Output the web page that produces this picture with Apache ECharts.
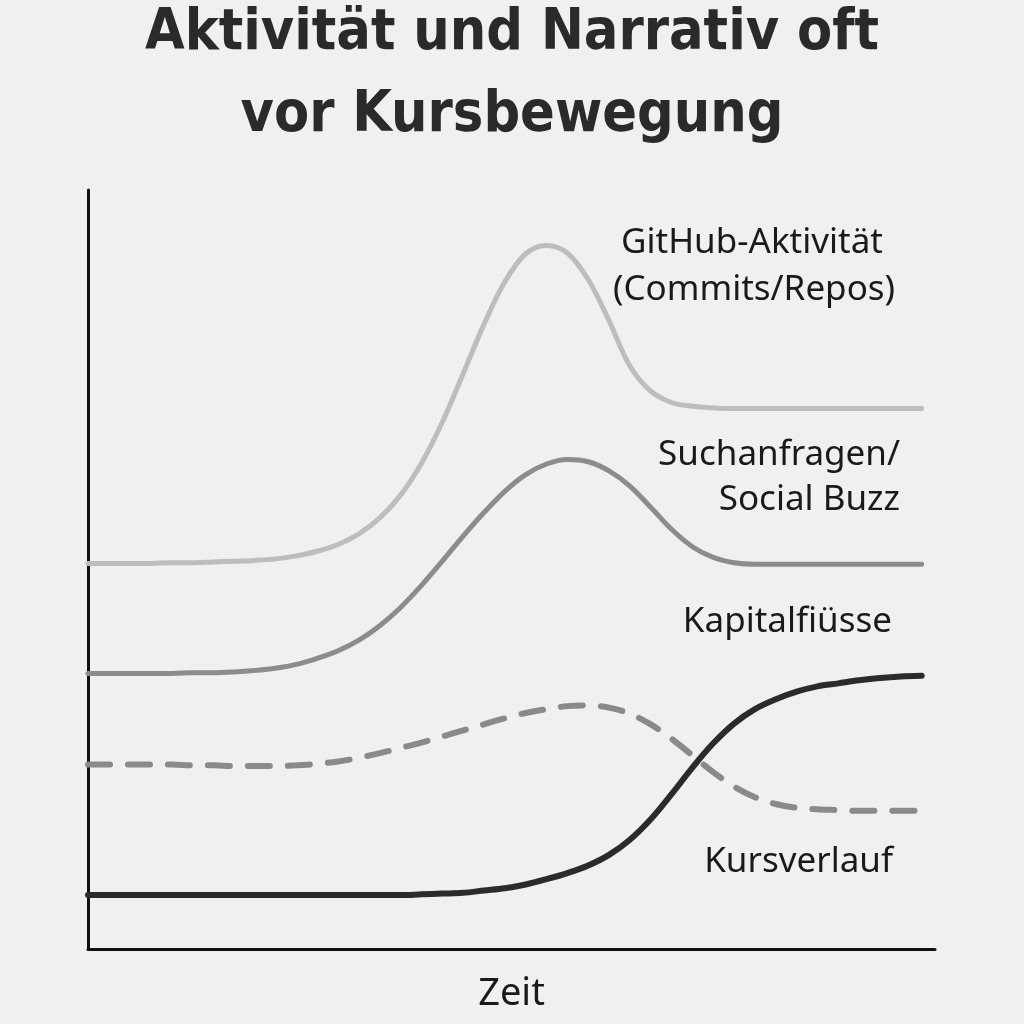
<!DOCTYPE html>
<html>
<head>
<meta charset="utf-8">
<script src="https://cdn.jsdelivr.net/npm/echarts@6/dist/echarts.min.js"></script>
<style>
  html, body { margin: 0; padding: 0; background: #f0f0f0; }
  #chart { width: 1024px; height: 1024px; }
</style>
</head>
<body>
<div id="chart"></div>
<script>
// Zeitachse (schematisch, 0..100)
const zeit = [0, 2.5, 5, 7.5, 10, 12.5, 15, 17.5, 20, 22.5, 25, 27.5, 30, 32.5, 35, 37.5, 40, 42.5, 45, 47.5,
              50, 52.5, 55, 57.5, 60, 62.5, 65, 67.5, 70, 72.5, 75, 77.5, 80, 82.5, 85, 87.5, 90, 92.5, 95, 97.5, 100];

// GitHub-Aktivität (Commits/Repos)
const github = [50.8, 50.8, 50.8, 50.8, 50.9, 50.9, 51.0, 51.1, 51.2, 51.4, 51.8, 52.4, 53.3, 54.7, 56.8, 59.8,
                64.0, 69.4, 75.8, 82.3, 87.9, 91.6, 92.7, 91.7, 88.2, 82.8, 76.8, 73.5, 72.0, 71.5, 71.3,
                71.2, 71.2, 71.2, 71.2, 71.2, 71.2, 71.2, 71.2, 71.2, 71.2];

// Suchanfragen / Social Buzz
const suche = [36.3, 36.3, 36.3, 36.3, 36.3, 36.4, 36.4, 36.5, 36.7, 37.0, 37.5, 38.3, 39.3, 40.7, 42.6, 45.0,
               47.9, 51.1, 54.4, 57.5, 60.3, 62.5, 63.9, 64.5, 64.2, 63.0, 61.0, 58.2, 55.3, 53.0, 51.6,
               50.9, 50.7, 50.7, 50.7, 50.7, 50.7, 50.7, 50.7, 50.7, 50.7];

// Kapitalflüsse (gestrichelt)
const kapital = [24.3, 24.3, 24.3, 24.3, 24.3, 24.2, 24.2, 24.1, 24.1, 24.1, 24.2, 24.4, 24.7, 25.2, 25.8, 26.5,
                 27.2, 28.0, 28.8, 29.6, 30.4, 31.1, 31.6, 32.0, 32.1, 31.8, 31.0, 29.6, 27.7, 25.5, 23.3,
                 21.4, 20.0, 19.1, 18.6, 18.4, 18.3, 18.2, 18.2, 18.2, 18.2];

// Kursverlauf
const kurs = [7.1, 7.1, 7.1, 7.1, 7.1, 7.1, 7.1, 7.1, 7.1, 7.1, 7.1, 7.1, 7.1, 7.1, 7.1, 7.1,
              7.2, 7.3, 7.4, 7.7, 8.0, 8.5, 9.2, 10.0, 11.0, 12.4, 14.4, 17.1, 20.4, 23.9, 27.1,
              29.7, 31.6, 32.9, 33.9, 34.6, 35.0, 35.4, 35.7, 35.9, 36.0];

const pairs = (ys) => zeit.map((x, i) => [x, ys[i]]);

const labelFont = '35px "Noto Sans", sans-serif';

const chart = echarts.init(document.getElementById('chart'));
chart.setOption({
  backgroundColor: '#f0f0f0',
  animation: false,
  title: {
    text: 'Aktivität und Narrativ oft\nvor Kursbewegung',
    left: 'center',
    top: -12,
    textStyle: {
      fontFamily: '"DejaVu Sans Condensed", sans-serif',
      fontSize: 57,
      fontWeight: 'bold',
      color: '#2a2a2a',
      lineHeight: 82
    }
  },
  grid: { left: 88, right: 89, top: 190, bottom: 75, containLabel: false, outerBoundsMode: 'none' },
  xAxis: {
    type: 'value',
    min: 0,
    max: 101.6,
    name: 'Zeit',
    nameLocation: 'middle',
    nameGap: 26,
    nameTextStyle: { fontFamily: '"Noto Sans", sans-serif', fontSize: 38, color: '#1a1a1a' },
    axisLine: { lineStyle: { color: '#111', width: 3 } },
    axisTick: { show: false },
    axisLabel: { show: false },
    splitLine: { show: false }
  },
  yAxis: {
    type: 'value',
    min: 0,
    max: 100,
    axisLine: { show: true, lineStyle: { color: '#111', width: 3 } },
    axisTick: { show: false },
    axisLabel: { show: false },
    splitLine: { show: false }
  },
  series: [
    {
      name: 'GitHub-Aktivität', type: 'line', smooth: 0.35, symbol: 'none',
      data: pairs(github),
      lineStyle: { color: '#bdbdbd', width: 5, cap: 'round' }
    },
    {
      name: 'Suchanfragen/Social Buzz', type: 'line', smooth: 0.35, symbol: 'none',
      data: pairs(suche),
      lineStyle: { color: '#8c8c8c', width: 5, cap: 'round' }
    },
    {
      name: 'Kapitalflüsse', type: 'line', smooth: 0.35, symbol: 'none',
      data: pairs(kapital),
      lineStyle: { color: '#8a8a8a', width: 6, type: [22, 18], cap: 'round' }
    },
    {
      name: 'Kursverlauf', type: 'line', smooth: 0.35, symbol: 'none',
      data: pairs(kurs),
      lineStyle: { color: '#2b2b2b', width: 6, cap: 'round' }
    }
  ],
  graphic: [
    { type: 'text', style: { text: 'GitHub-Aktivität', x: 752, y: 243, textAlign: 'center', textVerticalAlign: 'middle', font: labelFont, fill: '#1a1a1a' } },
    { type: 'text', style: { text: '(Commits/Repos)', x: 754, y: 290, textAlign: 'center', textVerticalAlign: 'middle', font: labelFont, fill: '#1a1a1a' } },
    { type: 'text', style: { text: 'Suchanfragen/', x: 900, y: 455, textAlign: 'right', textVerticalAlign: 'middle', font: labelFont, fill: '#1a1a1a' } },
    { type: 'text', style: { text: 'Social Buzz', x: 900, y: 500, textAlign: 'right', textVerticalAlign: 'middle', font: labelFont, fill: '#1a1a1a' } },
    { type: 'text', style: { text: 'Kapitalfiüsse', x: 892, y: 622, textAlign: 'right', textVerticalAlign: 'middle', font: labelFont, fill: '#1a1a1a' } },
    { type: 'text', style: { text: 'Kursverlauf', x: 893, y: 862, textAlign: 'right', textVerticalAlign: 'middle', font: labelFont, fill: '#1a1a1a' } }
  ]
});
</script>
</body>
</html>
